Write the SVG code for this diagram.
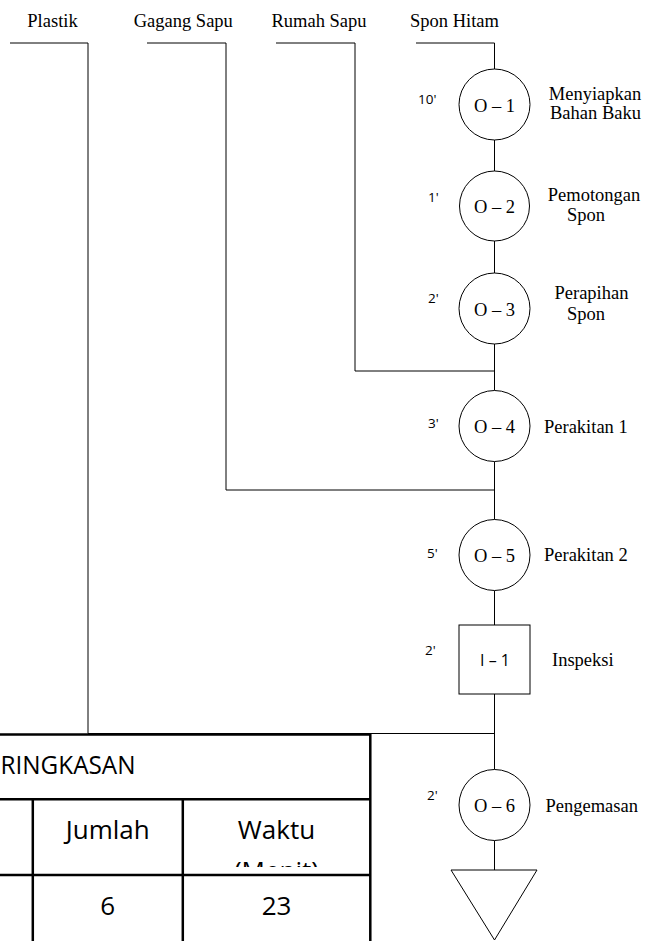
<svg xmlns="http://www.w3.org/2000/svg" width="645" height="941" viewBox="0 0 645 941">
<style>
.bg{fill:#fff}
.ln{fill:none;stroke:#000;stroke-width:1}
.nd{fill:#fff;stroke:#000;stroke-width:1}
.tb{fill:none;stroke:#000;stroke-width:2.5}
.sr{font-family:"Liberation Serif","Times New Roman",serif;font-size:18.5px;fill:#000}
.mid{text-anchor:middle}
.tm{font-family:"Open Sans","Liberation Sans",sans-serif;font-size:13.5px;fill:#000}
.ins{font-family:"Open Sans","Liberation Sans",sans-serif;font-size:16px;fill:#000;text-anchor:middle}
.tt{font-family:"Open Sans","Liberation Sans",sans-serif;font-size:26px;fill:#000}
</style>
<defs>
<clipPath id="cellclip"><rect x="184" y="800" width="186" height="67"/></clipPath>
</defs>
<rect class="bg" x="0" y="0" width="645" height="941"/>

<g id="inputs">
<text class="sr mid" x="52.5" y="27">Plastik</text>
<text class="sr mid" x="183.3" y="27">Gagang Sapu</text>
<text class="sr mid" x="319" y="27">Rumah Sapu</text>
<text class="sr mid" x="454.5" y="27">Spon Hitam</text>
</g>

<g id="connectors">
<path class="ln" d="M10,43 H88 V733.5 H494.5"/>
<path class="ln" d="M147,43 H226 V490 H494.5"/>
<path class="ln" d="M276,43 H355 V371 H494.5"/>
<path class="ln" d="M416,43 H494.5 V69"/>
<path class="ln" d="M494.5,140 V171"/>
<path class="ln" d="M494.5,241 V273"/>
<path class="ln" d="M494.5,344 V390.5"/>
<path class="ln" d="M494.5,461.5 V519.5"/>
<path class="ln" d="M494.5,590.5 V625"/>
<path class="ln" d="M494.5,694 V769.5"/>
<path class="ln" d="M494.5,840.5 V870"/>
</g>

<g id="O-1">
<circle class="nd" cx="494.5" cy="104.5" r="35.5"/>
<text class="sr mid" x="494.5" y="111.5">O – 1</text>
<text class="tm" x="418" y="104">10'</text>
<text class="sr mid" x="595" y="100">Menyiapkan</text>
<text class="sr mid" x="595.5" y="119">Bahan Baku</text>
</g>

<g id="O-2">
<circle class="nd" cx="494.5" cy="206" r="35"/>
<text class="sr mid" x="494.5" y="213">O – 2</text>
<text class="tm" x="428" y="202">1'</text>
<text class="sr mid" x="594" y="201">Pemotongan</text>
<text class="sr mid" x="586" y="221">Spon</text>
</g>

<g id="O-3">
<circle class="nd" cx="494.5" cy="308.5" r="35.5"/>
<text class="sr mid" x="494.5" y="315.5">O – 3</text>
<text class="tm" x="428" y="303">2'</text>
<text class="sr mid" x="591.5" y="299">Perapihan</text>
<text class="sr mid" x="586" y="320">Spon</text>
</g>

<g id="O-4">
<circle class="nd" cx="494.5" cy="426" r="35.5"/>
<text class="sr mid" x="494.5" y="433">O – 4</text>
<text class="tm" x="428" y="428">3'</text>
<text class="sr" x="544" y="432.5">Perakitan 1</text>
</g>

<g id="O-5">
<circle class="nd" cx="494.5" cy="555" r="35.5"/>
<text class="sr mid" x="494.5" y="562">O – 5</text>
<text class="tm" x="427" y="558">5'</text>
<text class="sr" x="544" y="560.5">Perakitan 2</text>
</g>

<g id="I-1">
<rect class="nd" x="459" y="625" width="71" height="69"/>
<text class="ins" x="495" y="666">I – 1</text>
<text class="tm" x="425" y="655">2'</text>
<text class="sr" x="552" y="666">Inspeksi</text>
</g>

<g id="O-6">
<circle class="nd" cx="494.5" cy="805" r="35.5"/>
<text class="sr mid" x="494.5" y="812">O – 6</text>
<text class="tm" x="427" y="800">2'</text>
<text class="sr" x="545.5" y="812">Pengemasan</text>
</g>

<g id="storage">
<polygon class="nd" points="451,870 537,870 494.5,940"/>
</g>

<g id="summary-table">
<rect class="bg" x="-3" y="734.5" width="373" height="210"/>
<path class="tb" d="M-3,734.5 H370.3 V945"/>
<path class="tb" d="M-3,799.3 H370.3"/>
<path class="tb" d="M-3,875 H370.3"/>
<path class="tb" d="M32.8,799.3 V945"/>
<path class="tb" d="M182.8,799.3 V945"/>
<text class="tt" x="0.5" y="774.3" textLength="135" lengthAdjust="spacingAndGlyphs">RINGKASAN</text>
<text class="tt mid" x="107.8" y="839">Jumlah</text>
<text class="tt mid" x="276.5" y="838.5">Waktu</text>
<g clip-path="url(#cellclip)"><text class="tt mid" x="276.5" y="880">(Menit)</text></g>
<text class="tt mid" x="107.8" y="915">6</text>
<text class="tt mid" x="276.5" y="915">23</text>
</g>
</svg>
